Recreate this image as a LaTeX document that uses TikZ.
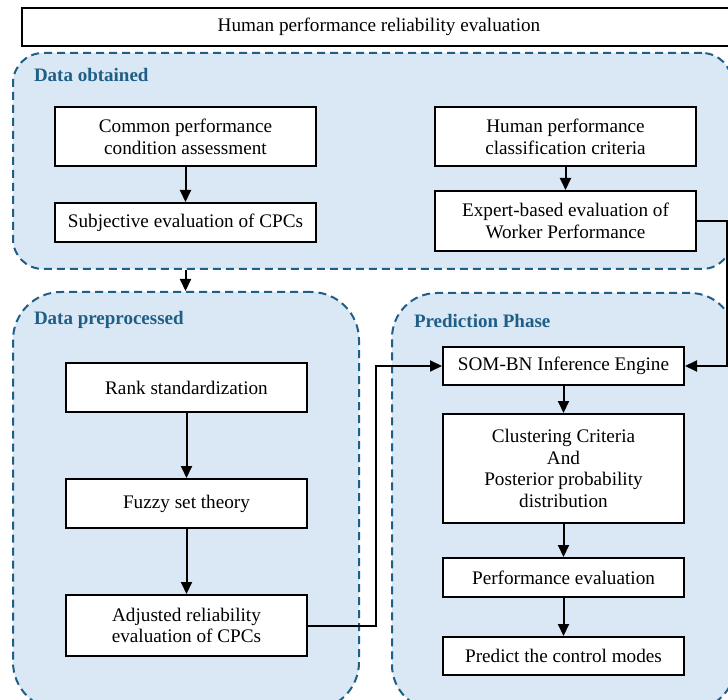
\documentclass[tikz,border=0pt]{standalone}
\usepackage{fontspec}
\setmainfont{Liberation Serif}
\usetikzlibrary{arrows.meta}
\definecolor{panelfill}{HTML}{DAE7F5}
\definecolor{paneldraw}{HTML}{1F5F86}
\begin{document}
\begin{tikzpicture}[x=1pt,y=-1pt,>={Triangle[length=12pt,width=11pt]},line width=2pt,
  font=\fontsize{19.2}{21.7}\selectfont,
  panel/.style={draw=paneldraw,fill=panelfill,dash pattern=on 8pt off 5pt,line width=2pt},
  phase/.style={anchor=west,text=paneldraw,font=\fontsize{19}{22}\selectfont\bfseries,inner sep=0pt},
  stepbox/.style={draw,fill=white,align=center,minimum width=241pt,inner sep=2pt},
  flow/.style={->,line width=2pt}]
  \clip (0,0) rectangle (728,700);

  % 三个阶段区域
  \node[panel,rounded corners=30pt,minimum width=719pt,minimum height=216pt] (obtained) at (372.5,161) {};
  \node[panel,rounded corners=48pt,minimum width=346pt,minimum height=418pt] (preproc) at (186,501) {};
  \node[panel,rounded corners=45pt,minimum width=343pt,minimum height=417pt] (predict) at (563.5,501.5) {};

  \node[phase] (obtainedtitle) at (33,75) {Data obtained};
  \node[phase] (preproctitle) at (33,320) {Data preprocessed};
  \node[phase] (predicttitle) at (413,321) {Prediction Phase};

  % 顶部标题框
  \node[draw,fill=white,minimum width=714pt,minimum height=38pt] (hpre) at (379,27) {Human performance reliability evaluation};

  % 数据获取
  \node[stepbox,minimum width=261pt,minimum height=59pt] (cpa) at (185.5,136.5) {Common performance\\condition assessment};
  \node[stepbox,minimum width=261pt,minimum height=39pt] (subj) at (185.5,222.5) {Subjective evaluation of CPCs};
  \node[stepbox,minimum width=261pt,minimum height=59pt] (hpc) at (565.5,136.5) {Human performance\\classification criteria};
  \node[stepbox,minimum width=261pt,minimum height=60pt] (expert) at (565.5,221) {Expert-based evaluation of\\Worker Performance};

  % 数据预处理
  \node[stepbox,minimum height=49pt] (rank) at (186.5,387.5) {Rank standardization};
  \node[stepbox,minimum height=49pt] (fuzzy) at (186.5,503.5) {Fuzzy set theory};
  \node[stepbox,minimum height=61pt] (adjusted) at (186.5,625.5) {Adjusted reliability\\evaluation of CPCs};

  % 预测阶段
  \node[stepbox,minimum height=38pt] (som) at (563.5,366) {SOM-BN Inference Engine};
  \node[stepbox,minimum height=109pt] (cluster) at (563.5,468.5) {Clustering Criteria\\And\\Posterior probability\\distribution};
  \node[stepbox,minimum height=39pt] (perf) at (563.5,577.5) {Performance evaluation};
  \node[stepbox,minimum height=38pt] (modes) at (563.5,656) {Predict the control modes};

  % 连线
  \draw[flow] (cpa) -- (subj);
  \draw[flow] (hpc) -- (expert);
  \draw[flow] (cpa.south |- obtained.south) -- (cpa.south |- preproc.north);
  \draw[flow] (rank) -- (fuzzy);
  \draw[flow] (fuzzy) -- (adjusted);
  \draw[flow] (som) -- (cluster);
  \draw[flow] (cluster) -- (perf);
  \draw[flow] (perf) -- (modes);
  \draw[flow] (adjusted.east) -- ++(68,0) |- (som.west);
  \draw[flow] (expert.east) -- ++(30,0) |- (som.east);
\end{tikzpicture}
\end{document}
